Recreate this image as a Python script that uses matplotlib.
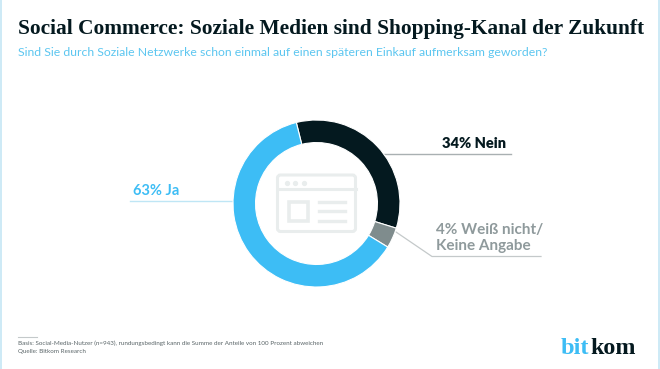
import matplotlib.pyplot as plt
from matplotlib.patches import FancyBboxPatch, Rectangle

labels = ['34% Nein', '4% Weiß nicht/\nKeine Angabe', '63% Ja']
values = [34, 4, 63]
colors = ['#04191f', '#7f8c8d', '#3dbdf5']

W, H = 660, 369
DARK = '#04191f'
BLUE = '#3dbdf5'
GREY = '#8f9a9c'

fig = plt.figure(figsize=(6.6, 3.69), dpi=100, facecolor='white')

# overlay in pixel coords for text, leader lines and the icon
bg = fig.add_axes([0, 0, 1, 1])
bg.set_xlim(0, W)
bg.set_ylim(H, 0)
bg.axis('off')

# donut
cx, cy, r = 316.5, 203.5, 83.5
ax = fig.add_axes([(cx - r) / W, 1 - (cy + r) / H, 2 * r / W, 2 * r / H])
ax.pie(values, colors=colors, startangle=104, counterclock=False, radius=1,
       wedgeprops=dict(width=0.27, edgecolor='white', linewidth=0.8))
ax.set_xlim(-1, 1)
ax.set_ylim(-1, 1)
ax.axis('off')

# frame on the edge of the picture
bg.plot([1, 1], [0, H], color='#cdeaf6', lw=1.4)
bg.plot([W - 1, W - 1], [0, H], color='#cdeaf6', lw=1.4)

bg.text(18, 29, 'Social Commerce: Soziale Medien sind Shopping-Kanal der Zukunft',
        family='Liberation Serif', weight='bold', fontsize=15.4, color=DARK, va='center')
bg.text(18, 52, 'Sind Sie durch Soziale Netzwerke schon einmal auf einen späteren Einkauf aufmerksam geworden?',
        family='Lato', fontsize=8.83, color='#5cc6f0', va='center')

# leader lines
bg.plot([384, 511], [153.5, 153.5], color='#a9b0b2', lw=1)
bg.plot([396, 432, 541], [232, 256.5, 256.5], color='#c4c9ca', lw=0.9)
bg.plot([130, 232], [201, 201], color='#bfe6f5', lw=1)

bg.text(474, 143.5, labels[0], family='Lato', weight='heavy', fontsize=10.5, color=DARK, ha='center', va='center')
bg.text(436, 238, labels[1], family='Lato', weight='bold', fontsize=11, color=GREY, ha='left', va='center', linespacing=1.25)
bg.text(133, 191, labels[2], family='Lato', weight='bold', fontsize=10.5, color=BLUE, ha='left', va='center')

# browser icon in the hole
ic = '#e9eded'
bg.add_patch(FancyBboxPatch((277.5, 175), 78, 56.5, boxstyle='round,pad=0,rounding_size=3', fc='none', ec=ic, lw=2.2, zorder=5))
bg.plot([277.5, 355.5], [189, 189], color=ic, lw=2.2, zorder=5)
for x in (287, 295, 304):
    bg.plot(x, 182.7, 'o', color=ic, ms=2.8, zorder=5)
bg.add_patch(Rectangle((289, 202), 19, 19, fc='none', ec=ic, lw=2.6, zorder=5))
for y in (201.7, 211, 220.7):
    bg.plot([319, 345], [y, y], color=ic, lw=2.4, zorder=5)

# footer
bg.plot([18, 37], [337, 337], color='#c4c9ca', lw=0.8)
bg.text(18, 343, 'Basis: Social-Media-Nutzer (n=943), rundungsbedingt kann die Summe der Anteile von 100 Prozent abweichen',
        family='Lato', fontsize=4.48, color='#5a6568', va='center')
bg.text(18, 352, 'Quelle: Bitkom Research', family='Lato', fontsize=4.48, color='#5a6568', va='center')

# logo
bg.text(561, 354, 'bit', family='Liberation Serif', weight='bold', fontsize=17.5, color=BLUE, va='baseline')
bg.text(590, 354, 'kom', family='Liberation Serif', weight='bold', fontsize=17.3, color=DARK, va='baseline')

fig.savefig('out.png', dpi=100)
